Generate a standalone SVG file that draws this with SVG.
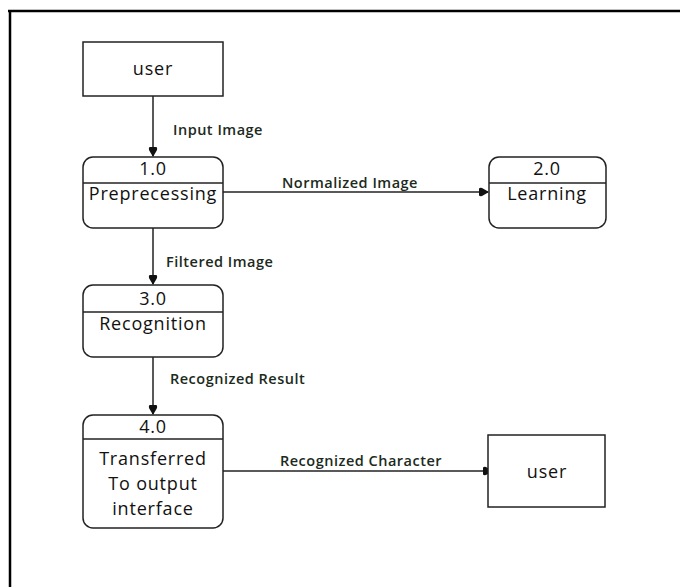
<svg xmlns="http://www.w3.org/2000/svg" width="680" height="587" viewBox="0 0 680 587">
<style>
.box{fill:#fff;stroke:#222;stroke-width:1.5}
.div{stroke:#222;stroke-width:1.5}
.t{font-family:"Open Sans","Liberation Sans",sans-serif;font-size:18px;letter-spacing:0.8px;fill:#111;text-anchor:middle}
.lbl{font-family:"Open Sans","Liberation Sans",sans-serif;font-size:14.5px;letter-spacing:0.5px;font-weight:600;fill:#1c2a1c}
.edge{stroke:#222;stroke-width:1.5;fill:none}
</style>
<defs>
<marker id="arr" markerWidth="10" markerHeight="10" refX="9" refY="5" orient="auto" markerUnits="userSpaceOnUse">
<path d="M0,1.5 Q1,0.5 3,1 L10,5 L3,9 Q1,9.5 0,8.5 Z" fill="#111"/>
</marker>
</defs>
<rect width="680" height="587" fill="#fff"/>
<g id="frame">
<line x1="8" y1="11" x2="680" y2="11" stroke="#000" stroke-width="2.5"/>
<line x1="10" y1="10" x2="10" y2="587" stroke="#000" stroke-width="2.5"/>
</g>
<g id="connectors">
<line class="edge" x1="153" y1="96" x2="153" y2="156" marker-end="url(#arr)"/>
<line class="edge" x1="223" y1="192" x2="488" y2="192" marker-end="url(#arr)"/>
<line class="edge" x1="153" y1="228" x2="153" y2="284" marker-end="url(#arr)"/>
<line class="edge" x1="153" y1="357" x2="153" y2="414" marker-end="url(#arr)"/>
<line class="edge" x1="223" y1="471" x2="492" y2="471" marker-end="url(#arr)"/>
<text class="lbl" x="173" y="135">Input Image</text>
<text class="lbl" x="282" y="188">Normalized Image</text>
<text class="lbl" x="166" y="267">Filtered Image</text>
<text class="lbl" x="170" y="384">Recognized Result</text>
<text class="lbl" x="280" y="466">Recognized Character</text>
</g>
<g id="user1">
<rect class="box" x="83" y="42" width="140" height="54"/>
<text class="t" x="153" y="75">user</text>
</g>
<g id="p1">
<rect class="box" x="83" y="157" width="140" height="71" rx="10"/>
<line class="div" x1="83" y1="183" x2="223" y2="183"/>
<text class="t" x="153" y="175">1.0</text>
<text class="t" x="153" y="200">Preprecessing</text>
</g>
<g id="p2">
<rect class="box" x="489" y="157" width="117" height="71" rx="10"/>
<line class="div" x1="489" y1="183" x2="606" y2="183"/>
<text class="t" x="547" y="175">2.0</text>
<text class="t" x="547" y="200">Learning</text>
</g>
<g id="p3">
<rect class="box" x="83" y="285" width="140" height="72" rx="10"/>
<line class="div" x1="83" y1="312" x2="223" y2="312"/>
<text class="t" x="153" y="305">3.0</text>
<text class="t" x="153" y="330">Recognition</text>
</g>
<g id="p4">
<rect class="box" x="83" y="415" width="140" height="113" rx="10"/>
<line class="div" x1="83" y1="439" x2="223" y2="439"/>
<text class="t" x="153" y="433">4.0</text>
<text class="t" x="153" y="465">Transferred</text>
<text class="t" x="153" y="490">To output</text>
<text class="t" x="153" y="515">interface</text>
</g>
<g id="user2">
<rect class="box" x="488" y="435" width="117" height="72"/>
<text class="t" x="547" y="478">user</text>
</g>
</svg>
